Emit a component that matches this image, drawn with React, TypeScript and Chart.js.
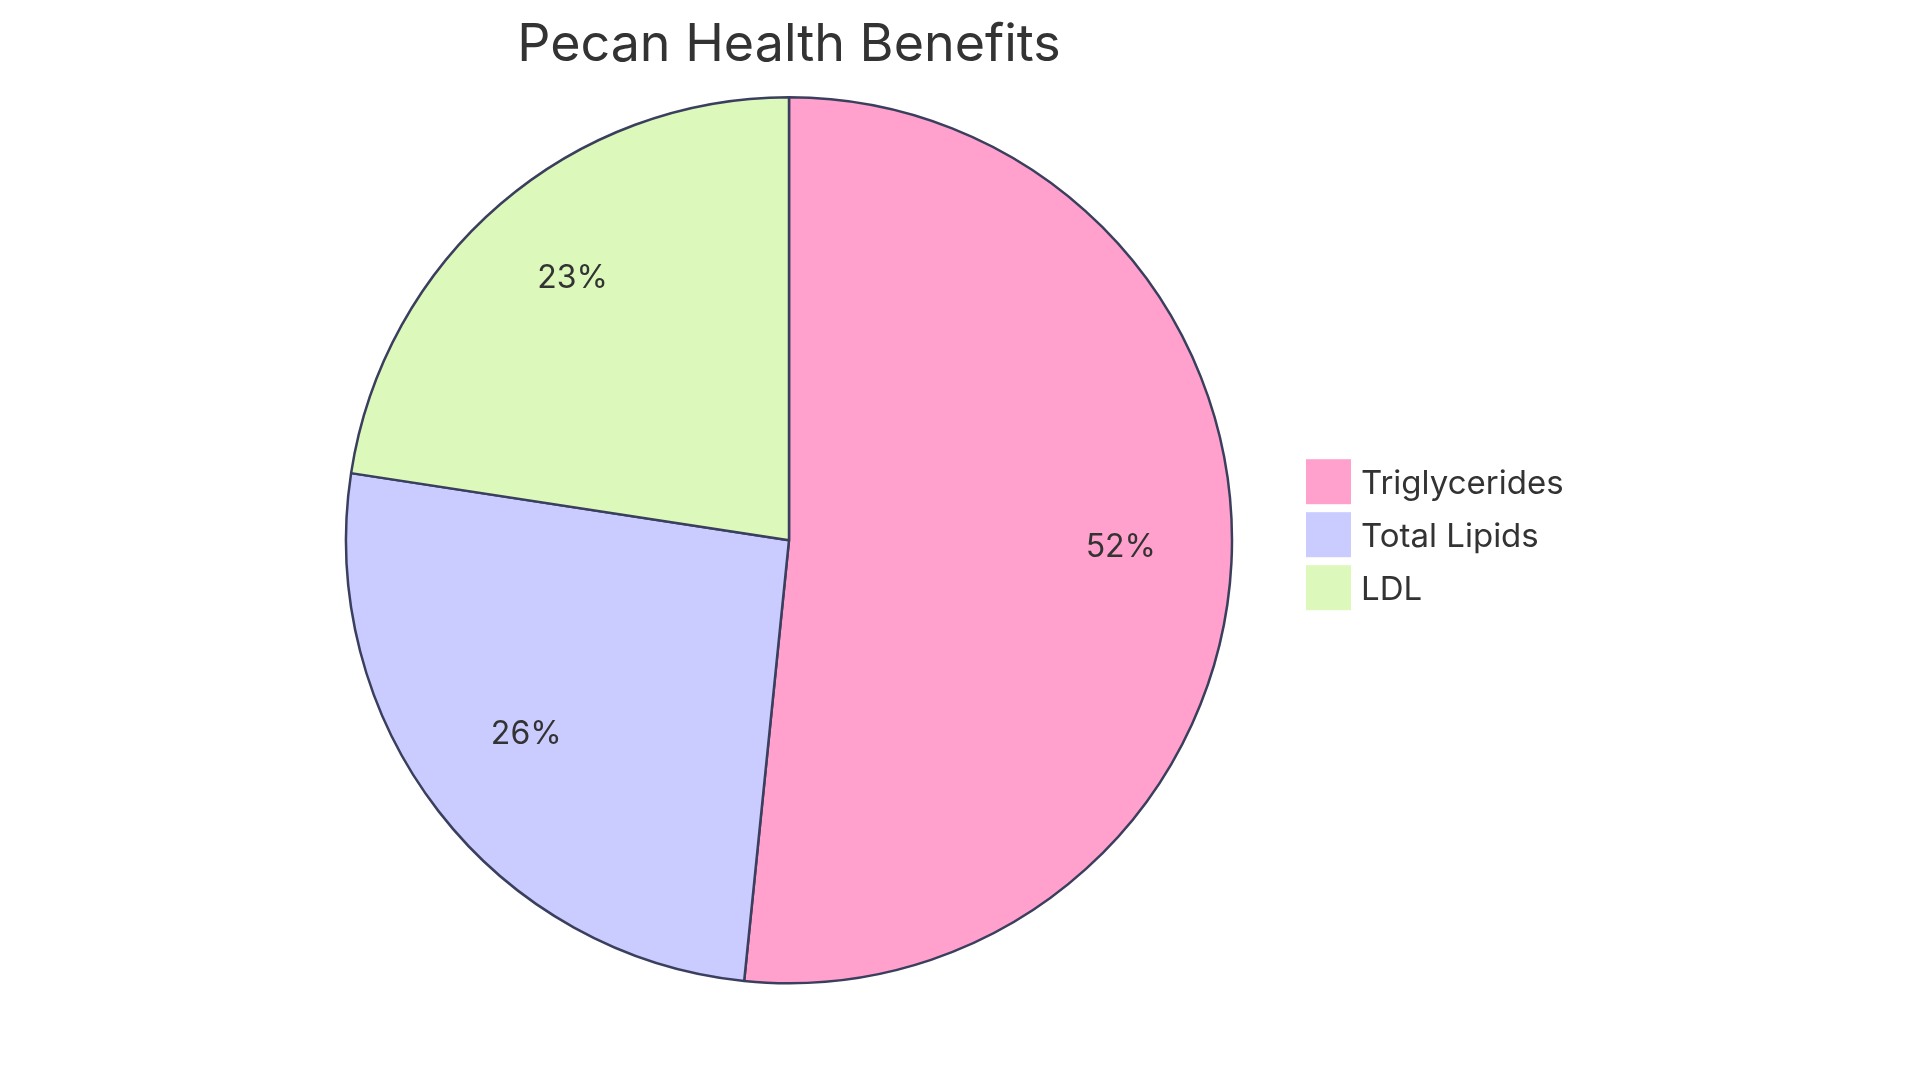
import React, { useEffect, useRef } from "react";
import { Chart, registerables } from "chart.js";

Chart.register(...registerables);

const TITLE = "Pecan Health Benefits";
const LABELS = ["Triglycerides", "Total Lipids", "LDL"];
const VALUES = [16, 8, 7];
const COLORS = ["#FFA1CC", "#CACBFF", "#DCF9BB"];

const FONT = "Inter, 'Noto Sans', sans-serif";
const TEXT_COLOR = "#333333";
const STROKE_COLOR = "#3b3f5e";

// percent labels inside the slices + legend on the right of the pie
const pieText = {
  id: "pieText",
  afterDatasetsDraw(chart: any) {
    const { ctx } = chart;
    const meta = chart.getDatasetMeta(0);
    const total = VALUES.reduce((a, b) => a + b, 0);
    ctx.save();
    ctx.fillStyle = TEXT_COLOR;
    ctx.textBaseline = "alphabetic";

    ctx.font = `32px ${FONT}`;
    ctx.textAlign = "center";
    let cx = 0;
    let cy = 0;
    let rad = 0;
    meta.data.forEach((arc: any, i: number) => {
      const { x, y, startAngle, endAngle, outerRadius } = arc.getProps(
        ["x", "y", "startAngle", "endAngle", "outerRadius"],
        true
      );
      cx = x;
      cy = y;
      rad = outerRadius;
      const mid = (startAngle + endAngle) / 2;
      const r = outerRadius * 0.75;
      const pct = Math.round((VALUES[i] / total) * 100);
      ctx.fillText(`${pct}%`, x + Math.cos(mid) * r, y + Math.sin(mid) * r);
    });

    // legend
    const box = 45;
    const step = 53;
    const left = cx + rad + 74;
    const top = cy - 81;
    ctx.font = `33px ${FONT}`;
    ctx.textAlign = "left";
    LABELS.forEach((label, i) => {
      const by = top + i * step;
      ctx.fillStyle = COLORS[i];
      ctx.fillRect(left, by, box, box);
      ctx.fillStyle = TEXT_COLOR;
      ctx.fillText(label, left + box + 10, by + 35);
    });
    ctx.restore();
  },
};

const App = () => {
  const chartRef = useRef<HTMLCanvasElement>(null);

  useEffect(() => {
    if (!chartRef.current) return;
    const ctx = chartRef.current.getContext("2d");
    if (!ctx) return;

    const pieChart = new Chart(ctx, {
      type: "pie",
      data: {
        labels: LABELS,
        datasets: [
          {
            data: VALUES,
            backgroundColor: COLORS,
            borderColor: STROKE_COLOR,
            borderWidth: 2.5,
            hoverOffset: 0,
          },
        ],
      },
      options: {
        animation: false,
        responsive: true,
        maintainAspectRatio: false,
        radius: 443,
        layout: {
          padding: { left: 0, right: 342, top: 0, bottom: 86 },
        },
        plugins: {
          legend: { display: false },
          tooltip: { enabled: false },
          title: {
            display: true,
            text: TITLE,
            color: TEXT_COLOR,
            font: { family: FONT, size: 52, weight: "normal" },
            padding: { top: 14, bottom: 7 },
          },
        },
      },
      plugins: [pieText],
    });

    return () => {
      pieChart.destroy();
    };
  }, []);

  return (
    <div
      style={{
        position: "fixed",
        left: 0,
        top: 0,
        width: "1920px",
        height: "1083px",
        background: "#ffffff",
      }}
    >
      <canvas ref={chartRef}></canvas>
    </div>
  );
};

export default App;
